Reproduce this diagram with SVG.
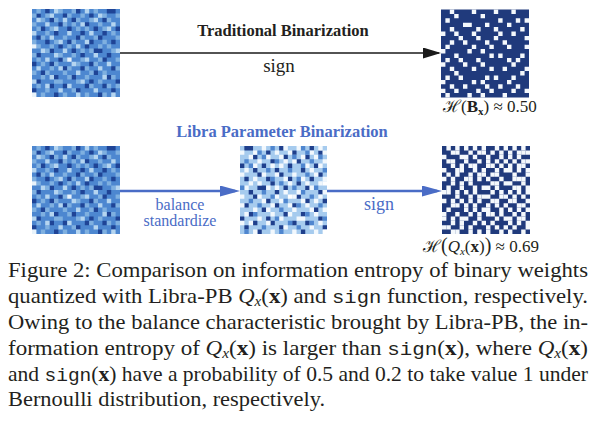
<svg xmlns="http://www.w3.org/2000/svg" xmlns:xlink="http://www.w3.org/1999/xlink" width="597" height="425" viewBox="0 0 597 425">
<style>
.t{font-family:"Liberation Serif","Times New Roman",Times,serif;fill:#231f20}
.bl{fill:#4a6cc6}
.m{font-family:"Liberation Mono","Courier New",monospace}
.c{fill:none;stroke-width:1}
.sym{font-family:"DejaVu Serif","Liberation Serif",serif}
</style>
<defs>
<path id="p4" d="M3 0.5h1M10 0.5h1M17 0.5h2M1 1.5h1M7 1.5h1M13 1.5h1M4 2.5h1M9 2.5h1M16 2.5h1M6 3.5h1M12 3.5h1M2 4.5h1M8 4.5h1M14 4.5h1M19 4.5h1M5 5.5h1M11 5.5h1M16 5.5h1M1 6.5h1M10 6.5h1M15 6.5h1M3 7.5h1M8 7.5h1M13 7.5h1M18 7.5h1M6 8.5h1M12 8.5h1M4 9.5h1M9 9.5h1M14 9.5h2M1 10.5h1M11 10.5h1M17 10.5h1M6 11.5h1M16 11.5h1M0 12.5h1M4 12.5h1M13 12.5h1M7 13.5h1M11 13.5h1M18 13.5h1M2 14.5h1M14 14.5h1M5 15.5h1M9 15.5h1M17 15.5h1M1 16.5h1M13 16.5h1M19 16.5h1M4 17.5h1M7 17.5h1M12 17.5h1M16 17.5h1M0 18.5h1M10 18.5h1M18 18.5h1M5 19.5h1M15 19.5h1"/>
<path id="p2" d="M1 0.5h1M6 0.5h1M9 0.5h1M14 0.5h1M0 1.5h1M3 1.5h1M8 1.5h1M11 1.5h1M16 1.5h1M19 1.5h1M2 2.5h1M5 2.5h1M10 2.5h1M13 2.5h1M17 2.5h1M0 3.5h1M7 3.5h1M9 3.5h1M15 3.5h1M1 4.5h1M4 4.5h1M10 4.5h1M12 4.5h1M16 4.5h1M3 5.5h1M18 5.5h1M2 6.5h1M7 6.5h1M11 6.5h1M14 6.5h1M19 6.5h1M0 7.5h1M5 7.5h1M9 7.5h1M16 7.5h1M1 8.5h1M4 8.5h1M8 8.5h1M15 8.5h1M17 8.5h1M3 9.5h1M11 9.5h1M13 9.5h1M18 9.5h1M0 10.5h1M6 10.5h1M9 10.5h1M1 11.5h1M7 11.5h1M11 11.5h1M15 11.5h1M19 11.5h1M2 12.5h1M5 12.5h1M10 12.5h1M14 12.5h1M4 13.5h1M8 13.5h1M12 13.5h1M19 13.5h1M0 14.5h1M3 14.5h1M7 14.5h1M13 14.5h1M16 14.5h1M2 15.5h1M8 15.5h1M12 15.5h1M18 15.5h1M5 16.5h2M10 16.5h1M15 16.5h1M1 17.5h1M13 17.5h1M17 17.5h1M19 17.5h1M3 18.5h1M9 18.5h1M2 19.5h1M7 19.5h1M12 19.5h1M16 19.5h1"/>
<path id="p1" d="M5 0.5h1M12 0.5h1M4 1.5h1M15 1.5h1M1 2.5h1M7 2.5h1M14 2.5h1M3 3.5h1M11 3.5h1M18 3.5h1M5 4.5h1M17 4.5h1M0 5.5h1M8 5.5h1M13 5.5h1M4 6.5h1M6 7.5h1M12 7.5h1M10 8.5h1M2 9.5h1M7 9.5h1M19 9.5h1M5 10.5h1M14 10.5h1M3 11.5h1M12 11.5h1M9 12.5h1M17 12.5h1M1 13.5h1M6 13.5h1M15 13.5h1M10 14.5h1M4 15.5h1M16 15.5h1M0 16.5h1M11 16.5h1M3 17.5h1M8 17.5h1M6 18.5h1M14 18.5h1M10 19.5h1M18 19.5h1"/>
<path id="p0" d="M0 8.5h1M8 11.5h1M0 19.5h1"/>
<marker id="ak" markerUnits="userSpaceOnUse" markerWidth="18" markerHeight="11" refX="16" refY="5.5" orient="auto"><path d="M0 0L18 5.5L0 11z" fill="#1a1a1a"/></marker>
<marker id="ab" markerUnits="userSpaceOnUse" markerWidth="20" markerHeight="11" refX="15" refY="5.5" orient="auto"><path d="M0 0L20 5.5L0 11z" fill="#4a6cc6"/></marker>
</defs>
<rect width="597" height="425" fill="#fff"/>

<g id="grid-weights-top" transform="translate(32,9) scale(4.4)">
<rect width="20" height="20" fill="#4d87d0"/>
<g class="c"><use href="#p4" stroke="#1f4496"/><use href="#p2" stroke="#7fb0e0"/><use href="#p1" stroke="#b5d5f0"/><use href="#p0" stroke="#e8f3fb"/></g>
</g>

<g id="grid-binary-top" transform="translate(441,9.5) scale(4.4)">
<rect width="20" height="20" fill="#203a7c"/>
<g class="c" transform="matrix(1 0 0 -1 0 20)"><use href="#p2" stroke="#f4f8fc"/></g>
</g>

<g id="grid-weights-bottom" transform="translate(32,146) scale(4.4)">
<rect width="20" height="20" fill="#4d87d0"/>
<g class="c"><use href="#p4" stroke="#1f4496"/><use href="#p2" stroke="#7fb0e0"/><use href="#p1" stroke="#b5d5f0"/><use href="#p0" stroke="#e8f3fb"/></g>
</g>

<g id="grid-balanced" transform="translate(240,146) scale(4.35,4.4)">
<rect width="20" height="20" fill="#a6cbee"/>
<g class="c" transform="matrix(-1 0 0 1 20 0)"><use href="#p4" stroke="#1f3f8c"/><use href="#p2" stroke="#f2f8fd"/><use href="#p1" stroke="#4f86cf"/><use href="#p0" stroke="#ffffff"/></g>
</g>

<g id="grid-binary-bottom" transform="translate(442,146) scale(4.4)">
<rect width="20" height="20" fill="#203a7c"/>
<g class="c" transform="rotate(90 10 10)"><use href="#p4" stroke="#f4f8fc"/><use href="#p2" stroke="#f4f8fc"/><use href="#p1" stroke="#f4f8fc"/></g>
</g>

<g id="connectors" fill="none">
<line x1="120" y1="53" x2="439" y2="53" stroke="#1a1a1a" stroke-width="1.5" marker-end="url(#ak)"/>
<line x1="120" y1="191" x2="235" y2="191" stroke="#4a6cc6" stroke-width="2.5" marker-end="url(#ab)"/>
<line x1="327" y1="191" x2="437" y2="191" stroke="#4a6cc6" stroke-width="2.5" marker-end="url(#ab)"/>
</g>

<g id="labels">
<text class="t" x="283" y="36" font-size="16.5" font-weight="bold" text-anchor="middle">Traditional Binarization</text>
<text class="t" x="279" y="72" font-size="19" text-anchor="middle">sign</text>
<text class="t" x="443" y="112" font-size="17"><tspan class="sym">ℋ</tspan>(<tspan font-weight="bold">B</tspan><tspan font-weight="bold" font-size="11" dy="3">x</tspan><tspan dy="-3">) ≈ 0.50</tspan></text>
<text class="t bl" x="282" y="137" font-size="16.5" font-weight="bold" text-anchor="middle">Libra Parameter Binarization</text>
<text class="t bl" font-size="16" text-anchor="middle"><tspan x="180" y="210">balance</tspan><tspan x="180" y="226">standardize</tspan></text>
<text class="t bl" x="379" y="210" font-size="18" text-anchor="middle">sign</text>
<text class="t" x="423" y="252" font-size="17"><tspan class="sym">ℋ</tspan><tspan font-size="20">(</tspan><tspan font-style="italic">Q</tspan><tspan font-style="italic" font-size="11" dy="3">x</tspan><tspan dy="-3">(</tspan><tspan font-weight="bold">x</tspan>)<tspan font-size="20">)</tspan> ≈ 0.69</text>
</g>

<g id="caption" font-size="21">
<text class="t" x="8" y="277" textLength="580" lengthAdjust="spacingAndGlyphs">Figure 2: Comparison on information entropy of binary weights</text>
<text class="t" x="8" y="303" textLength="580" lengthAdjust="spacingAndGlyphs">quantized with Libra-PB <tspan font-style="italic">Q</tspan><tspan font-style="italic" font-size="14" dy="3">x</tspan><tspan dy="-3">(</tspan><tspan font-weight="bold">x</tspan>) and <tspan class="m" font-size="19">sign</tspan> function, respectively.</text>
<text class="t" x="8" y="329" textLength="580" lengthAdjust="spacingAndGlyphs">Owing to the balance characteristic brought by Libra-PB, the in-</text>
<text class="t" x="8" y="355" textLength="580" lengthAdjust="spacingAndGlyphs">formation entropy of <tspan font-style="italic">Q</tspan><tspan font-style="italic" font-size="14" dy="3">x</tspan><tspan dy="-3">(</tspan><tspan font-weight="bold">x</tspan>) is larger than <tspan class="m" font-size="19">sign</tspan>(<tspan font-weight="bold">x</tspan>), where <tspan font-style="italic">Q</tspan><tspan font-style="italic" font-size="14" dy="3">x</tspan><tspan dy="-3">(</tspan><tspan font-weight="bold">x</tspan>)</text>
<text class="t" x="8" y="381" textLength="580" lengthAdjust="spacingAndGlyphs">and <tspan class="m" font-size="19">sign</tspan>(<tspan font-weight="bold">x</tspan>) have a probability of 0.5 and 0.2 to take value 1 under</text>
<text class="t" x="8" y="406" textLength="317" lengthAdjust="spacingAndGlyphs">Bernoulli distribution, respectively.</text>
</g>
</svg>
